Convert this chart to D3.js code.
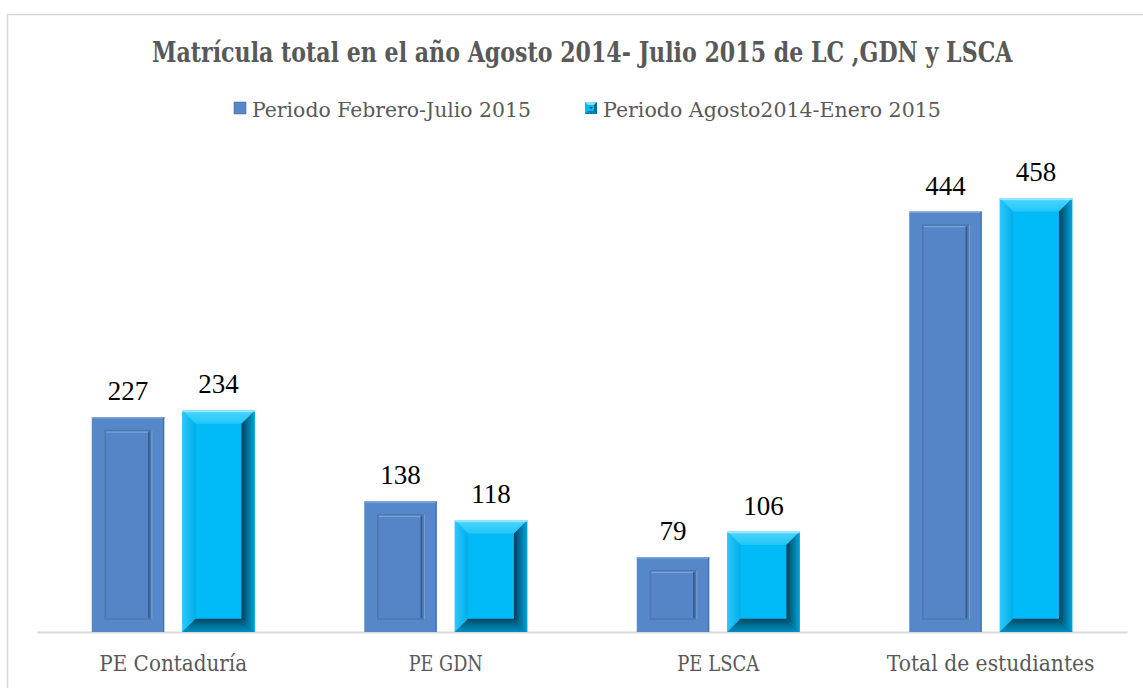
<!DOCTYPE html>
<html>
<head>
<meta charset="utf-8">
<script src="https://cdn.jsdelivr.net/npm/d3@7"></script>
<style>
  html, body { margin: 0; padding: 0; background: #ffffff; }
  svg { display: block; }
</style>
</head>
<body>
<script>
const categories = ["PE Contaduría", "PE GDN", "PE LSCA", "Total de estudiantes"];
const seriesNames = ["Periodo Febrero-Julio 2015", "Periodo Agosto2014-Enero 2015"];
const febreroJulio = [227, 138, 79, 444];
const agostoEnero = [234, 118, 106, 458];
const title = "Matrícula total en el año Agosto 2014- Julio 2015 de LC ,GDN y LSCA";

const W = 1143, H = 688;
const TEXT_FONT = "DejaVu Serif, Liberation Serif, serif";
const NUM_FONT = "Liberation Serif, serif";
const svg = d3.select("body").append("svg").attr("width", W).attr("height", H);
const defs = svg.append("defs");

// draws a text whose width is squeezed horizontally to a target width (condensed face look)
function fittedText(parent, str, x, yBase, anchor, targetW, attrs) {
  const g = parent.append("g");
  const t = g.append("text").attr("x", 0).attr("y", 0).text(str);
  Object.entries(attrs).forEach(([k, v]) => t.attr(k, v));
  const natural = t.node().getComputedTextLength();
  const k = Math.min(1, targetW / natural);
  const dx = anchor === "middle" ? -natural / 2 : 0;
  t.attr("x", dx);
  g.attr("transform", `translate(${x},${yBase}) scale(${k},1)`);
  return g;
}

function grad(id, x2, y2, stops) {
  const g = defs.append("linearGradient").attr("id", id)
    .attr("x1", 0).attr("y1", 0).attr("x2", x2).attr("y2", y2);
  stops.forEach(s => g.append("stop").attr("offset", s[0]).attr("stop-color", s[1]));
}
grad("cyTop", 0, 1, [[0, "#8ae6ff"], [0.2, "#45d2fc"], [1, "#22c6f8"]]);
grad("cyLeft", 1, 0, [[0, "#2cc8fa"], [1, "#00aeea"]]);
grad("cyRight", 1, 0, [[0, "#003a52"], [0.4, "#006a90"], [1, "#00a4dc"]]);
grad("cyBottom", 0, 1, [[0, "#00435e"], [0.5, "#006f96"], [1, "#008fc0"]]);

// border
svg.append("rect").attr("x", 7.5).attr("y", 14.5).attr("width", W).attr("height", H)
  .attr("fill", "none").attr("stroke", "#d9d9d9").attr("stroke-width", 1.6);

// title
fittedText(svg, title, 582.5, 62, "middle", 861, {
  "font-family": TEXT_FONT, "font-weight": "bold", "font-size": 27, "fill": "#595959"
});

// scales
const x0 = d3.scaleBand().domain(categories).range([37, 1127]).paddingInner(0).paddingOuter(0);
const x1 = d3.scaleBand().domain([0, 1]).range([54.75, 217.75]).paddingInner(0.2).paddingOuter(0);
const y = d3.scaleLinear().domain([0, 500]).range([632, 632 - 0.947 * 500]);

const data = categories.map((c, i) => ({ cat: c, vals: [febreroJulio[i], agostoEnero[i]] }));

// axis baseline
const axisG = svg.append("g").attr("transform", `translate(0,${y(0)})`)
  .call(d3.axisBottom(x0).tickSize(0).tickPadding(0).tickFormat(""));
axisG.select(".domain").attr("stroke", "#d9d9d9").attr("stroke-width", 2);

// category labels
const catWidths = [148, 74, 82, 208];
const catG = svg.append("g");
categories.forEach((c, i) => {
  fittedText(catG, c, x0(c) + x0.bandwidth() / 2, 671, "middle", catWidths[i], {
    "font-family": TEXT_FONT, "font-size": 22, "fill": "#595959"
  });
});

const groups = svg.append("g").selectAll("g").data(data).join("g")
  .attr("transform", d => `translate(${x0(d.cat)},0)`);

const inset = 13.5;

groups.each(function (d) {
  const g = d3.select(this);
  d.vals.forEach((v, s) => {
    const bx = x1(s), bw = x1.bandwidth();
    const top = y(v), bot = y(0);
    const bg = g.append("g");
    if (s === 0) {
      bg.append("rect").attr("x", bx).attr("y", top).attr("width", bw).attr("height", bot - top)
        .attr("fill", "#5687c8");
      bg.append("rect").attr("x", bx).attr("y", top).attr("width", bw).attr("height", 1.5)
        .attr("fill", "#7aa3da");
      bg.append("rect").attr("x", bx + bw - 1.2).attr("y", top).attr("width", 1.2).attr("height", bot - top)
        .attr("fill", "#46719f");
      const ix = bx + inset, iy = top + inset, iw = bw - 2 * inset, ih = bot - top - 2 * inset + 0.5;
      if (ih > 0) {
        bg.append("rect").attr("x", ix).attr("y", iy).attr("width", iw).attr("height", ih)
          .attr("fill", "#5585c6").attr("stroke", "#4a76a8").attr("stroke-width", 1.2);
        bg.append("line").attr("x1", ix + 1).attr("x2", ix + iw - 1).attr("y1", iy + 1.6).attr("y2", iy + 1.6)
          .attr("stroke", "#7ba3d8").attr("stroke-width", 1.2);
        bg.append("line").attr("x1", ix + iw - 1.8).attr("x2", ix + iw - 1.8).attr("y1", iy + 1).attr("y2", iy + ih - 1)
          .attr("stroke", "#345a8a").attr("stroke-width", 1.6);
        bg.append("line").attr("x1", ix + iw + 1.2).attr("x2", ix + iw + 1.2).attr("y1", iy).attr("y2", iy + ih)
          .attr("stroke", "#79a0d6").attr("stroke-width", 1);
      }
    } else {
      const ix0 = bx + inset, ix1 = bx + bw - inset, iy0 = top + inset, iy1 = bot - inset;
      bg.append("rect").attr("x", bx).attr("y", top).attr("width", bw).attr("height", bot - top)
        .attr("fill", "#00b9f6");
      bg.append("polygon").attr("points", [[bx, top], [bx + bw, top], [ix1, iy0], [ix0, iy0]].join(" "))
        .attr("fill", "url(#cyTop)");
      bg.append("polygon").attr("points", [[bx, top], [ix0, iy0], [ix0, iy1], [bx, bot]].join(" "))
        .attr("fill", "url(#cyLeft)");
      bg.append("polygon").attr("points", [[bx + bw, top], [bx + bw, bot], [ix1, iy1], [ix1, iy0]].join(" "))
        .attr("fill", "url(#cyRight)");
      bg.append("polygon").attr("points", [[bx, bot], [bx + bw, bot], [ix1, iy1], [ix0, iy1]].join(" "))
        .attr("fill", "url(#cyBottom)");
      bg.append("rect").attr("x", ix0).attr("y", iy0).attr("width", ix1 - ix0).attr("height", Math.max(0, iy1 - iy0))
        .attr("fill", "#00bbf8");
      bg.append("rect").attr("x", bx).attr("y", top).attr("width", bw).attr("height", 1.5)
        .attr("fill", "#9aeaff");
    }
    g.append("text").attr("x", bx + bw / 2).attr("y", top - 17)
      .attr("text-anchor", "middle")
      .attr("font-family", NUM_FONT).attr("font-size", 27)
      .attr("fill", "#000000").text(v);
  });
});

// legend
const legendX = [234, 585];
const legendW = [279, 338];
seriesNames.forEach((name, i) => {
  const g = svg.append("g").attr("transform", `translate(${legendX[i]},102)`);
  if (i === 0) {
    g.append("rect").attr("width", 12).attr("height", 12).attr("fill", "#5687c8")
      .attr("stroke", "#46719f").attr("stroke-width", 0.6);
  } else {
    g.append("rect").attr("width", 12).attr("height", 12).attr("fill", "#00b9f6");
    g.append("polygon").attr("points", "0,0 12,0 9,3 3,3").attr("fill", "#7fe3ff");
    g.append("polygon").attr("points", "12,0 12,12 9,9 9,3").attr("fill", "#00698f");
    g.append("polygon").attr("points", "0,12 12,12 9,9 3,9").attr("fill", "#0080ad");
    g.append("polygon").attr("points", "4,5 8,5 6,7").attr("fill", "#004f70");
  }
  fittedText(g, name, 18, 15, "start", legendW[i], {
    "font-family": TEXT_FONT, "font-size": 21, "fill": "#595959"
  });
});
</script>
</body>
</html>
